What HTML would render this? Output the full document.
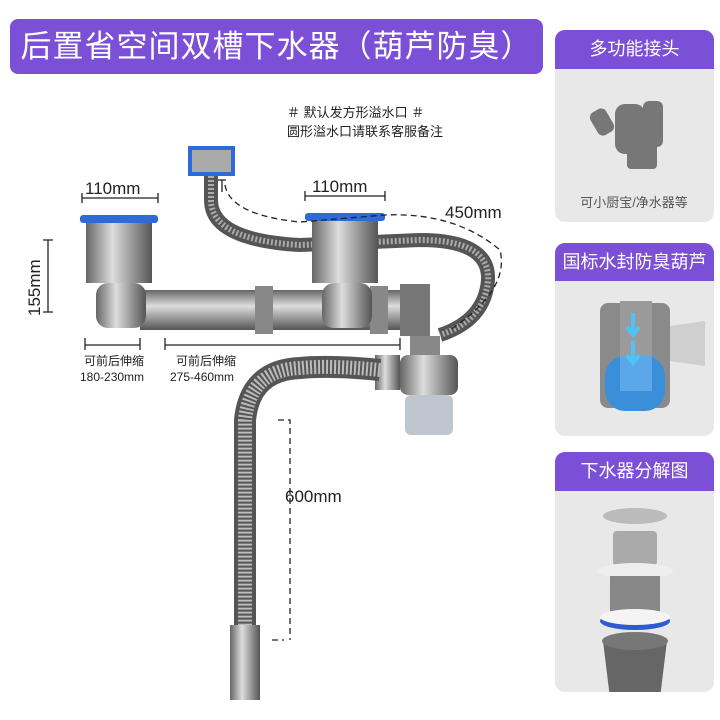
<!DOCTYPE html>
<html><head><meta charset="utf-8"><style>
body{margin:0;width:720px;height:720px;background:#fff;position:relative;overflow:hidden;font-family:"Liberation Sans","Noto Sans CJK SC",sans-serif}
.a{position:absolute}
.banner{left:10px;top:19px;width:533px;height:55px;background:#7b4fd6;border-radius:8px;color:#fff;font-size:31px;line-height:55px;text-align:center;letter-spacing:1px}
.card{background:#e9e8e8;border-radius:10px;overflow:hidden;left:555px;width:159px}
.card .h{background:#7b4fd6;color:#fff;text-align:center;font-size:18px}
.t{color:#222;font-size:12px;line-height:16px}
</style></head><body>
<div class="a banner">后置省空间双槽下水器（葫芦防臭）</div>

<div class="a card" style="top:30px;height:192px"><div class="h" style="height:39px;line-height:39px">多功能接头</div>
<svg width="159" height="153"><g fill="#777"><rect x="60" y="35" width="30" height="50" rx="10"/><rect x="72" y="60" width="30" height="40" rx="4"/><rect x="88" y="32" width="20" height="46" rx="6"/><rect x="38" y="40" width="18" height="26" rx="6" transform="rotate(-30 47 53)"/></g>
<text x="79" y="138" font-size="13" fill="#555" text-anchor="middle">可小厨宝/净水器等</text></svg></div>

<div class="a card" style="top:243px;height:193px"><div class="h" style="height:38px;line-height:38px">国标水封防臭葫芦</div>
<svg width="159" height="155"><rect x="45" y="22" width="70" height="105" rx="8" fill="#8a8a8a"/><rect x="50" y="75" width="60" height="55" rx="20" fill="#3a8fd8"/><rect x="65" y="20" width="32" height="75" fill="#9a9a9a"/><rect x="65" y="75" width="32" height="35" fill="#5aa8e8"/><path d="M115 45 L150 40 L150 85 L115 80Z" fill="#cfcfcf"/><path d="M78 32v20M72 46l6 8 6-8M78 60v20M72 74l6 8 6-8" stroke="#4fc3f7" stroke-width="4" fill="none"/></svg></div>

<div class="a card" style="top:452px;height:240px"><div class="h" style="height:39px;line-height:39px">下水器分解图</div>
<svg width="159" height="201"><ellipse cx="80" cy="25" rx="32" ry="8" fill="#bbb"/><rect x="58" y="40" width="44" height="35" rx="4" fill="#aaa"/><ellipse cx="80" cy="80" rx="38" ry="8" fill="#eee"/><rect x="55" y="85" width="50" height="45" fill="#888"/><ellipse cx="80" cy="130" rx="35" ry="9" fill="#2e5bd0"/><ellipse cx="80" cy="126" rx="35" ry="8" fill="#f4f4f4"/><path d="M48 150 L112 150 L104 215 L56 215Z" fill="#666"/><ellipse cx="80" cy="150" rx="33" ry="9" fill="#777"/></svg></div>

<div class="a t" style="left:287px;top:103px;font-size:13px;line-height:19px">＃ 默认发方形溢水口 ＃<br>圆形溢水口请联系客服备注</div>

<svg class="a" style="left:0;top:0" width="550" height="720">
<defs><linearGradient id="m" x1="0" x2="1"><stop offset="0" stop-color="#666"/><stop offset=".4" stop-color="#ddd"/><stop offset="1" stop-color="#555"/></linearGradient>
<linearGradient id="v" x1="0" x2="0" y1="0" y2="1"><stop offset="0" stop-color="#666"/><stop offset=".4" stop-color="#ddd"/><stop offset="1" stop-color="#555"/></linearGradient></defs>
<!-- overflow box -->
<rect x="188" y="146" width="47" height="30" fill="#2e6bd8"/><rect x="192" y="150" width="39" height="22" fill="#aaa"/>
<!-- overflow hose -->
<path d="M211 176 V200 Q211 240 300 245 L420 240 Q490 240 488 280 Q485 320 440 335" stroke="#555" stroke-width="14" fill="none"/>
<path d="M211 176 V200 Q211 240 300 245 L420 240 Q490 240 488 280 Q485 320 440 335" stroke="#aaa" stroke-width="6" fill="none" stroke-dasharray="2 2"/>
<!-- horizontal pipe -->
<rect x="140" y="290" width="290" height="40" fill="url(#v)"/>
<rect x="255" y="286" width="18" height="48" fill="#888"/><rect x="370" y="286" width="18" height="48" fill="#888"/><rect x="400" y="284" width="30" height="52" fill="#777"/>
<!-- left sink -->
<rect x="80" y="215" width="78" height="8" rx="3" fill="#2e6bd8"/>
<rect x="86" y="223" width="66" height="60" fill="url(#m)"/>
<rect x="96" y="283" width="50" height="45" rx="12" fill="url(#m)"/>
<!-- right sink -->
<rect x="305" y="213" width="80" height="8" rx="3" fill="#2e6bd8"/>
<rect x="312" y="221" width="66" height="62" fill="url(#m)"/>
<rect x="322" y="283" width="50" height="45" rx="12" fill="url(#m)"/>
<!-- trap -->
<rect x="410" y="336" width="30" height="20" fill="#888"/>
<rect x="400" y="355" width="58" height="40" rx="8" fill="url(#m)"/>
<rect x="405" y="395" width="48" height="40" rx="6" fill="#bfc6cf"/>
<rect x="375" y="355" width="25" height="35" fill="url(#m)"/>
<!-- drain hose -->
<path d="M380 370 Q330 365 300 368 Q250 370 245 420 V630" stroke="#555" stroke-width="22" fill="none"/>
<path d="M380 370 Q330 365 300 368 Q250 370 245 420 V630" stroke="#bbb" stroke-width="14" fill="none" stroke-dasharray="2 2"/>
<rect x="230" y="625" width="30" height="75" fill="url(#m)"/>
<!-- dims -->
<g stroke="#222" stroke-width="1.3" fill="none">
<path d="M82 198H158M82 193v10M158 193v10"/>
<path d="M305 196H385M305 191v10M385 191v10"/>
<path d="M48 240V312M43 240h10M43 312h10"/>
<path d="M222 180v12M218 180h8"/>
<path d="M225 185 Q230 215 300 222 L385 215 Q455 212 500 250 Q510 290 450 330" stroke-dasharray="6 4"/>
<path d="M278 420 H290 V640 M272 640h12" stroke-dasharray="6 4"/>
<path d="M85 338v12M140 338v12M85 345h55M165 338v12M400 338v12M165 345h235"/>
</g>
<text x="85" y="194" font-size="17" fill="#222">110mm</text>
<text x="312" y="192" font-size="17" fill="#222">110mm</text>
<text x="445" y="218" font-size="17" fill="#222">450mm</text>
<text x="285" y="502" font-size="17" fill="#222">600mm</text>
<text x="40" y="316" font-size="17" fill="#222" transform="rotate(-90 40 316)">155mm</text>
<text x="84" y="365" font-size="12" fill="#222">可前后伸缩</text><text x="80" y="381" font-size="12" fill="#222">180-230mm</text>
<text x="176" y="365" font-size="12" fill="#222">可前后伸缩</text><text x="170" y="381" font-size="12" fill="#222">275-460mm</text>
</svg>
</body></html>
